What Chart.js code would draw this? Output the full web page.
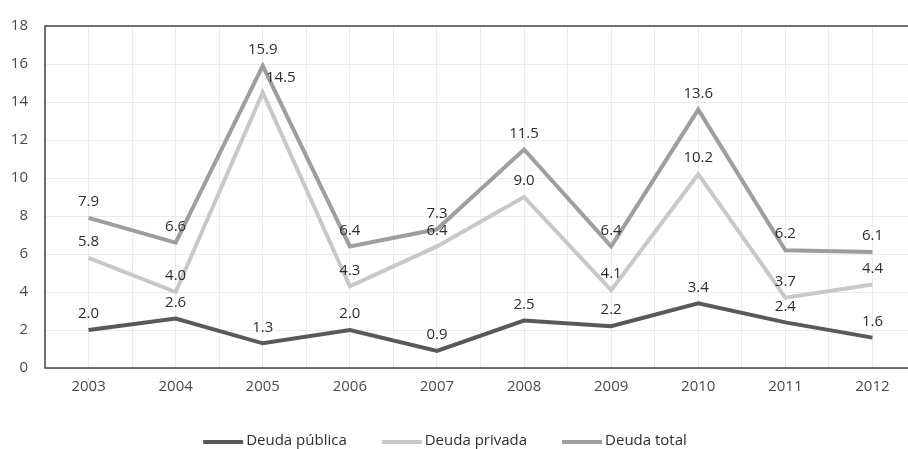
<!DOCTYPE html>
<html>
<head>
<meta charset="utf-8">
<script src="https://cdn.jsdelivr.net/npm/chart.js@4.4.0/dist/chart.umd.min.js"></script>
<style>
  html, body { margin: 0; padding: 0; background: #fff; overflow: hidden; }
  #wrap { width: 930px; height: 449px; }
</style>
</head>
<body>
<div id="wrap"><canvas id="chart" width="930" height="449"></canvas></div>
<script>
// DATA
const years = ['2003', '2004', '2005', '2006', '2007', '2008', '2009', '2010', '2011', '2012'];
const deudaPublica = [2.0, 2.6, 1.3, 2.0, 0.9, 2.5, 2.2, 3.4, 2.4, 1.6];
const deudaPrivada = [5.8, 4.0, 14.5, 4.3, 6.4, 9.0, 4.1, 10.2, 3.7, 4.4];
const deudaTotal = [7.9, 6.6, 15.9, 6.4, 7.3, 11.5, 6.4, 13.6, 6.2, 6.1];
const yTicks = [0, 2, 4, 6, 8, 10, 12, 14, 16, 18];

const FONT = '"Open Sans", "Noto Sans", sans-serif';
const gridColor = '#ebebeb';

// value labels above each point
const valueLabels = {
    id: 'valueLabels',
    afterDatasetsDraw(chart) {
        const ctx = chart.ctx;
        ctx.save();
        ctx.font = '15px ' + FONT;
        ctx.fillStyle = '#2e2e2e';
        ctx.textAlign = 'center';
        ctx.textBaseline = 'middle';
        chart.data.datasets.forEach((ds, i) => {
            chart.getDatasetMeta(i).data.forEach((pt, j) => {
                let dx = 0, dy = -16;
                // 2005 private debt label sits to the right of its peak
                if (i === 1 && j === 2) { dx = 18; dy = -15; }
                ctx.fillText(ds.data[j].toFixed(1), pt.x + dx, pt.y + dy);
            });
        });
        ctx.restore();
    }
};

// frame around the plot area + custom legend
const frameAndLegend = {
    id: 'frameAndLegend',
    afterDraw(chart) {
        const ctx = chart.ctx;
        const a = chart.chartArea;
        ctx.save();
        ctx.strokeStyle = '#444';
        ctx.lineWidth = 1.5;
        ctx.strokeRect(a.left, a.top, a.right - a.left, a.bottom - a.top);

        // legend
        ctx.font = '15px ' + FONT;
        ctx.textBaseline = 'middle';
        ctx.textAlign = 'left';
        const lineLen = 40, gap = 3, itemGap = 35;
        const items = chart.data.datasets.map(ds => ({
            label: ds.label, color: ds.borderColor, w: lineLen + gap + ctx.measureText(ds.label).width
        }));
        const total = items.reduce((s, it) => s + it.w, 0) + itemGap * (items.length - 1);
        let x = 445 - total / 2;
        const y = 442;
        items.forEach(it => {
            ctx.strokeStyle = it.color;
            ctx.lineWidth = 4;
            ctx.beginPath();
            ctx.moveTo(x, y);
            ctx.lineTo(x + lineLen, y);
            ctx.stroke();
            ctx.fillStyle = '#2e2e2e';
            ctx.fillText(it.label, x + lineLen + gap, y - 1);
            x += it.w + itemGap;
        });
        ctx.restore();
    }
};

const ctx = document.getElementById('chart').getContext('2d');
const chart = new Chart(ctx, {
    type: 'line',
    data: {
        labels: years,
        datasets: [{
            label: 'Deuda pública',
            data: deudaPublica,
            borderColor: '#595959',
            borderWidth: 4,
            tension: 0,
            pointRadius: 0
        }, {
            label: 'Deuda privada',
            data: deudaPrivada,
            borderColor: '#c8c8c8',
            borderWidth: 4,
            tension: 0,
            pointRadius: 0
        }, {
            label: 'Deuda total',
            data: deudaTotal,
            borderColor: '#9e9e9e',
            borderWidth: 4,
            tension: 0,
            pointRadius: 0
        }]
    },
    options: {
        responsive: false,
        animation: false,
        layout: { padding: { top: 23, right: 14, bottom: 51, left: 0 } },
        plugins: { legend: { display: false }, tooltip: { enabled: false } },
        scales: {
            x: {
                offset: true,
                grid: { offset: false, color: gridColor, drawTicks: false },
                border: { display: false },
                ticks: { color: '#4a4a4a', font: { size: 15, family: FONT }, padding: 10, maxRotation: 0 },
                afterFit: s => { s.height = 30; }
            },
            x2: {
                type: 'category',
                labels: years,
                position: 'bottom',
                offset: true,
                grid: { offset: true, color: gridColor, drawTicks: false },
                border: { display: false },
                ticks: { display: false },
                afterFit: s => { s.height = 0; }
            },
            y: {
                min: 0,
                max: 18,
                afterBuildTicks: s => { s.ticks = yTicks.map(v => ({ value: v })); },
                grid: { color: gridColor, drawTicks: false },
                border: { display: false },
                ticks: { color: '#4a4a4a', font: { size: 15, family: FONT }, padding: 17 },
                afterFit: s => { s.width = 45; }
            }
        }
    },
    plugins: [valueLabels, frameAndLegend]
});
</script>
</body>
</html>
